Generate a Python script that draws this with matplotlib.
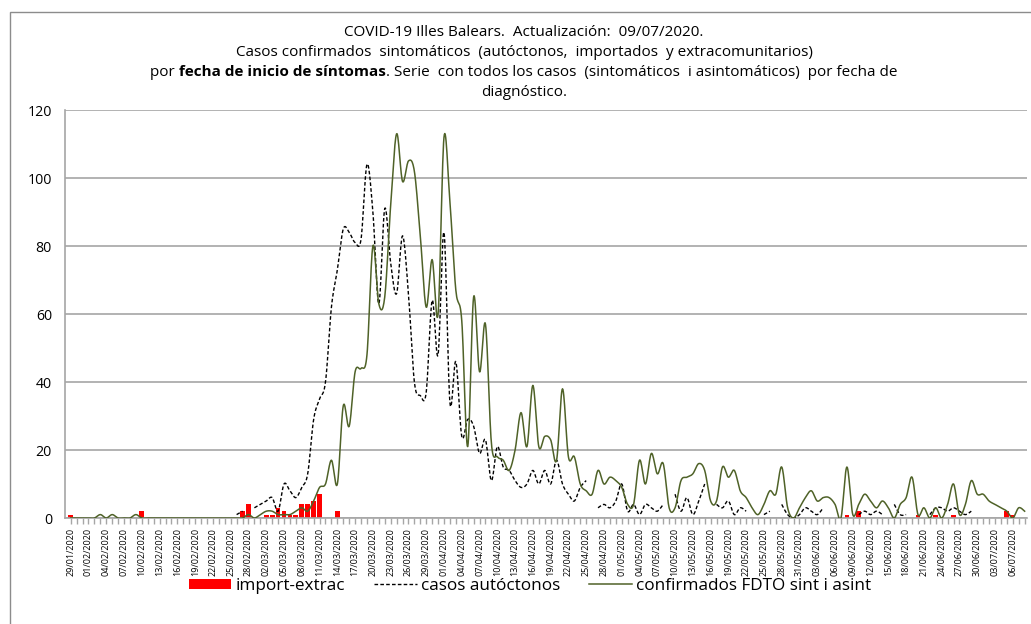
import numpy as np
import pandas as pd
import matplotlib
matplotlib.use("Agg")
import matplotlib.pyplot as plt
from matplotlib.patches import Rectangle
from matplotlib.lines import Line2D

plt.rcParams['font.family'] = ['Open Sans', 'Noto Sans', 'DejaVu Sans']

# ---------------- data ----------------
dates = pd.date_range("2020-01-29", "2020-07-08", freq="D")
day_labels = [d.strftime("%d/%m/%Y") for d in dates]

import_extrac = [
    1, 0, 0, 0, 0, 0, 0, 0, 0, 0, 0, 0, 2, 0, 0, 0, 0, 0, 0, 0,   # 0-19
    0, 0, 0, 0, 0, 0, 0, 0, 0, 2, 4, 0, 0, 1, 1, 3, 2, 1, 1, 4,   # 20-39
    4, 5, 7, 0, 0, 2, 0, 0, 0, 0, 0, 0, 0, 0, 0, 0, 0, 0, 0, 0,   # 40-59
    0, 0, 0, 0, 0, 0, 0, 0, 0, 0, 0, 0, 0, 0, 0, 0, 0, 0, 0, 0,   # 60-79
    0, 0, 0, 0, 0, 0, 0, 0, 0, 0, 0, 0, 0, 0, 0, 0, 0, 0, 0, 0,   # 80-99
    0, 0, 0, 0, 0, 0, 0, 0, 0, 0, 0, 0, 0, 0, 0, 0, 0, 0, 0, 0,   # 100-119
    0, 0, 0, 0, 0, 0, 0, 0, 0, 0, 0, 1, 0, 2, 0, 0, 0, 0, 0, 0,   # 120-139
    0, 0, 0, 1, 0, 0, 1, 0, 0, 1, 0, 0, 0, 0, 0, 0, 0, 0, 2, 1,   # 140-159
    0, 0,                                                         # 160-161
]

N = None
casos_autoctonos = [
    N, N, N, N, N, N, N, N, N, N, N, N, N, N, N, N, N, N, N, N,   # 0-19
    N, N, N, N, N, N, N, N, 1, 2, N, 3, 4, 5, 6, 2, 10, 8, 6, 9,  # 20-39
    13, 29, 35, 40, 62, 73, 85, 84, 81, 82,                       # 40-49
    104, 90, 63, 91, 75, 66, 83, 66, 40, 36,                      # 50-59
    37, 64, 48, 84, 34, 46, 24, 29, 27, 19,                       # 60-69
    23, 11, 21, 15, 14, 11, 9, 10, 14, 10,                        # 70-79
    14, 10, 17, 10, 7, 5, 9, 11, N, 3,                            # 80-89
    4, 3, 5, 10, 2, 4, 1, 4, 3, 2,                                # 90-99
    4, N, 7, 2, 6, 1, 5, 10, N, 4,                                # 100-109
    3, 5, 1, 3, 2, N, N, 1, 2, N,                                 # 110-119
    4, 1, 0, 1, 3, 2, 1, 3, N, N,                                 # 120-129
    N, N, N, 1, 2, 1, 2, 1, N, 4,                                 # 130-139
    1, 1, N, N, N, 1, 3, 3, 2, 3,                                 # 140-149
    2, 1, 2, N, N, N, N, N, N, N,                                 # 150-159
    N, N,                                                         # 160-161
]

confirmados_fdto = [
    0, 0, 0, 0, 0, 1, 0, 1, 0, 0, 0, 1, 0, 0, 0, 0, 0, 0, 0, 0,   # 0-19
    0, 0, 0, 0, 0, 0, 0, 0, 0, 0, 1, 0, 1, 2, 2, 1, 1, 1, 2, 3,   # 20-39
    2, 5, 9, 10, 17, 10, 33, 27, 43, 44,                          # 40-49
    48, 80, 63, 65, 92, 113, 99, 105, 102, 83,                    # 50-59
    62, 76, 60, 112, 93, 67, 58, 21, 65, 43,                      # 60-69
    57, 22, 18, 17, 14, 20, 31, 21, 39, 21,                       # 70-79
    24, 23, 17, 38, 18, 18, 10, 8, 7, 14,                         # 80-89
    10, 12, 11, 9, 4, 4, 17, 10, 19, 13,                          # 90-99
    16, 3, 3, 11, 12, 13, 16, 14, 5, 5,                           # 100-109
    15, 12, 14, 8, 6, 3, 1, 4, 8, 7,                              # 110-119
    15, 3, 0, 3, 6, 8, 5, 6, 6, 4,                                # 120-129
    0, 15, 1, 4, 7, 5, 3, 5, 3, 0,                                # 130-139
    4, 6, 12, 1, 3, 0, 3, 0, 4, 10,                               # 140-149
    1, 4, 11, 7, 7, 5, 4, 3, 2, 0,                                # 150-159
    3, 2,                                                         # 160-161
]

y_ticks = [0, 20, 40, 60, 80, 100, 120]

title_line1 = "COVID-19 Illes Balears.  Actualización:  09/07/2020."
title_line2 = "Casos confirmados  sintomáticos  (autóctonos,  importados  y extracomunitarios)"
title_line3 = ["por ", "fecha de inicio de síntomas", ". Serie  con todos los casos  (sintomáticos  i asintomáticos)  por fecha de"]
title_line4 = "diagnóstico."

legend_labels = ["import-extrac", "casos autóctonos", "confirmados FDTO sint i asint"]

# ---------------- helpers ----------------
def smooth_segments(x, y, k=14):
    """Excel-like smoothed line (Bezier through the points), split at gaps."""
    x = np.asarray(x, float)
    y = np.array([np.nan if v is None else v for v in y], float)
    segs, cur = [], []
    for xi, yi in zip(x, y):
        if np.isnan(yi):
            if cur:
                segs.append(cur)
            cur = []
        else:
            cur.append((xi, yi))
    if cur:
        segs.append(cur)
    out = []
    for s in segs:
        p = np.array(s)
        if len(p) == 1:
            out.append(p)
            continue
        pts = []
        m = len(p)
        for i in range(m - 1):
            p0 = p[max(i - 1, 0)]
            p1 = p[i]
            p2 = p[i + 1]
            p3 = p[min(i + 2, m - 1)]
            c1 = p1 + (p2 - p0) / 6.0
            c2 = p2 - (p3 - p1) / 6.0
            t = np.linspace(0, 1, k, endpoint=(i == m - 2))[:, None]
            b = ((1 - t) ** 3) * p1 + 3 * ((1 - t) ** 2) * t * c1 + 3 * (1 - t) * t ** 2 * c2 + t ** 3 * p2
            pts.append(b)
        out.append(np.vstack(pts))
    return out

# ---------------- figure ----------------
W, H = 1031, 624
fig = plt.figure(figsize=(W / 100, H / 100), dpi=100)
fig.patch.set_facecolor("white")

# outer chart border
fig.patches.append(Rectangle((10 / W, -0.2), 1.2, 1.2 - 12 / H, transform=fig.transFigure,
                             fill=False, edgecolor="#8c8c8c", linewidth=1.0))

ax_left, ax_right, ax_top, ax_bottom = 64.5, 1027, 110, 518
ax = fig.add_axes([ax_left / W, 1 - ax_bottom / H, (ax_right - ax_left) / W, (ax_bottom - ax_top) / H])

x = np.arange(len(dates))

ax.bar(x, import_extrac, width=0.8, color="#FF0000", zorder=2)

dash = (0, (2.6, 1.6))
for seg in smooth_segments(x, casos_autoctonos):
    ax.plot(seg[:, 0], seg[:, 1], color="black", linewidth=1.0, linestyle=dash, zorder=3)

for seg in smooth_segments(x, confirmados_fdto):
    ax.plot(seg[:, 0], seg[:, 1], color="#4F6228", linewidth=1.1, zorder=4)

ax.set_xlim(-1.05, 161.4)
ax.set_ylim(0, 120)
ax.set_yticks(y_ticks)
ax.set_yticklabels([str(v) for v in y_ticks], fontsize=10.2)
ax.yaxis.grid(True, color="#a6a6a6", linewidth=1.2)
ax.set_axisbelow(True)

ax.set_xticks(x[::3])
ax.set_xticklabels(day_labels[::3], rotation=90, fontsize=6.5)
ax.set_xticks(x, minor=True)
ax.tick_params(axis="x", which="both", length=4, color="#a6a6a6", width=1, pad=3)
ax.tick_params(axis="y", length=0, pad=9)

for side in ["top", "right"]:
    ax.spines[side].set_visible(False)
for side in ["left", "bottom"]:
    ax.spines[side].set_color("#a6a6a6")
    ax.spines[side].set_linewidth(1.2)

# ---------------- title ----------------
cx = 524 / W
tfs = 11
fig.text(cx, 1 - 32 / H, title_line1, ha="center", va="center", fontsize=tfs)
fig.text(cx, 1 - 52 / H, title_line2, ha="center", va="center", fontsize=tfs)
fig.text(cx, 1 - 92 / H, title_line4, ha="center", va="center", fontsize=tfs)

renderer = fig.canvas.get_renderer()
parts = []
for txt, wt in zip(title_line3, ["normal", "bold", "normal"]):
    t = fig.text(0, 1 - 72 / H, txt, ha="left", va="center", fontsize=tfs, fontweight=wt)
    parts.append(t)
widths = [p.get_window_extent(renderer=renderer).width for p in parts]
total = sum(widths)
xpos = cx * W - total / 2
for p, w in zip(parts, widths):
    p.set_x(xpos / W)
    xpos += w

# ---------------- legend ----------------
handles = [
    Rectangle((0, 0), 1, 1, facecolor="#FF0000", edgecolor="none"),
    Line2D([0], [0], color="black", linewidth=1.0, linestyle=dash),
    Line2D([0], [0], color="#4F6228", linewidth=1.1),
]
fig.legend(handles, legend_labels, ncol=3, loc="center",
           bbox_to_anchor=(530 / W, 1 - 586 / H), frameon=False, fontsize=12.3,
           handlelength=2.5, handleheight=0.6, handletextpad=0.25, columnspacing=1.7)

fig.savefig("out.png", dpi=100, facecolor="white")
